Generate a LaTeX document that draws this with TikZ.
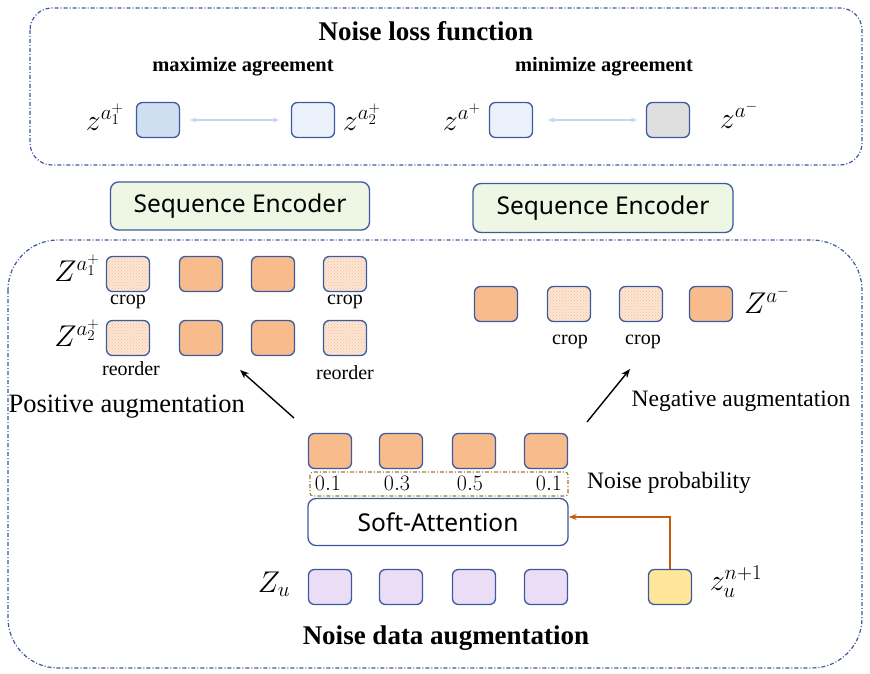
\documentclass[tikz,border=0pt]{standalone}
\usepackage{fix-cm}
\usepackage{fontspec}
\setmainfont{Liberation Serif}
\newfontfamily\uisans{Noto Sans}
\usetikzlibrary{patterns,arrows.meta}

\definecolor{frameblue}{HTML}{3D5A9C}
\definecolor{edgeblue}{HTML}{3B5AA0}
\definecolor{peach}{HTML}{F8BC8C}
\definecolor{peachlt}{HTML}{FCE6D6}
\definecolor{lilac}{HTML}{EADDF5}
\definecolor{butter}{HTML}{FFE699}
\definecolor{mint}{HTML}{EEF7E3}
\definecolor{blueA}{HTML}{CFDFF2}
\definecolor{blueB}{HTML}{EAF1FB}
\definecolor{greyC}{HTML}{E0DFE0}
\definecolor{paleline}{HTML}{C3D5F0}
\definecolor{rust}{HTML}{C55A11}
\definecolor{ochre}{HTML}{9A7B30}

\newcommand\titlefont{\fontsize{27}{30}\bfseries\selectfont}
\newcommand\subfont{\fontsize{20.5}{23}\bfseries\selectfont}
\newcommand\notefont{\fontsize{23.5}{26}\selectfont}
\newcommand\smallnote{\fontsize{20}{22}\selectfont}
\newcommand\mathlbl{\fontsize{30}{32}\selectfont}

\tikzset{
  frame/.style={draw=frameblue, line width=1.2pt,
    dash pattern=on 4pt off 2pt on 1pt off 2pt},
  tok/.style={draw=edgeblue, line width=1.3pt, rounded corners=6pt,
    minimum width=43pt, minimum height=35pt, inner sep=0pt},
  hot/.style={tok, fill=peach},
  cropped/.style={tok, preaction={fill=peachlt},
    pattern=crosshatch dots, pattern color=peach},
  wide/.style={draw=edgeblue, line width=1.3pt, rounded corners=8pt,
    inner sep=0pt, font=\uisans\fontsize{24.5}{27}\selectfont},
  mlabel/.style={font=\mathlbl, inner sep=1pt},
  pale/.style={<->, draw=paleline, line width=1.3pt,
    >={Stealth[length=6pt,width=5pt]}},
  push/.style={-{Stealth[length=9pt,width=7pt]}, line width=1.4pt},
}

\begin{document}
\begin{tikzpicture}[x=1pt,y=-1pt]
\useasboundingbox (0,0) rectangle (870,674);

% loss part
\draw[frame, rounded corners=22pt] (30,8) rectangle (862,165);
\node[font=\titlefont] (losstitle) at (426,31) {Noise loss function};
\node[font=\subfont] (maxtxt) at (243,67) {maximize agreement};
\node[font=\subfont] (mintxt) at (604,67) {minimize agreement};

\node[tok, fill=blueA] (za1) at (158,120) {};
\node[tok, fill=blueB] (za2) at (313,120) {};
\node[tok, fill=blueB] (zpos) at (511,120) {};
\node[tok, fill=greyC] (zneg) at (668,120) {};
\node[mlabel] (za1lbl) at (105,117) {$z^{a_1^+}$};
\node[mlabel] (za2lbl) at (362,117) {$z^{a_2^+}$};
\node[mlabel] (zposlbl) at (462,117) {$z^{a^+}$};
\node[mlabel] (zneglbl) at (739,115) {$z^{a^-}$};
\draw[pale, shorten <=10pt, shorten >=12pt] (za1) -- (za2);
\draw[pale, shorten <=15pt, shorten >=9pt] (zpos) -- (zneg);

% encoders
\node[wide, fill=mint, minimum width=259pt, minimum height=48pt] (encL) at (240,206) {Sequence Encoder};
\node[wide, fill=mint, minimum width=260pt, minimum height=49pt] (encR) at (603,208) {Sequence Encoder};

% augmentation part
\draw[frame, rounded corners=50pt] (8,240) rectangle (862,668);

% positive views
\foreach[count=\i] \x/\s in {128/cropped,201/hot,273/hot,345/cropped} {
  \node[\s] (pa\i) at (\x,274) {};
  \node[\s] (pb\i) at (\x,338) {};
}
\node[mlabel] (palbl) at (77,268) {$Z^{a_1^+}$};
\node[mlabel] (pblbl) at (77,333) {$Z^{a_2^+}$};
\node[font=\smallnote] (crop1) at (128,302) {crop};
\node[font=\smallnote] (crop2) at (345,302) {crop};
\node[font=\smallnote] (reord1) at (131,369) {reorder};
\node[font=\smallnote] (reord2) at (345,373) {reorder};

% negative view
\foreach[count=\i] \x/\s in {496/hot,569/cropped,641/cropped,711/hot}
  \node[\s] (na\i) at (\x,304) {};
\node[mlabel] (nalbl) at (767,300) {$Z^{a^-}$};
\node[font=\smallnote] (crop3) at (570,342) {crop};
\node[font=\smallnote] (crop4) at (643,342) {crop};

\node[font=\fontsize{26.5}{29}\selectfont, anchor=west] (postxt) at (5,407) {Positive augmentation};
\node[font=\notefont] (negtxt) at (741,401) {Negative augmentation};
\coordinate (posfrom) at (294,418);
\coordinate (posto) at (240,370);
\coordinate (negfrom) at (587,422);
\coordinate (negto) at (630,369);
\draw[push] (posfrom) -- (posto);
\draw[push] (negfrom) -- (negto);

% noisy tokens and their weights
\foreach[count=\i] \x/\wx/\p in {330/328/0.1,401/397/0.3,474/470/0.5,546/549/0.1} {
  \node[hot] (h\i) at (\x,451) {};
  \node[font=\fontsize{22}{24}\selectfont] (w\i) at (\wx,483) {$\p$};
}
\draw[ochre, line width=1.1pt, rounded corners=3pt,
  dash pattern=on 4pt off 2pt on 1pt off 2pt] (310,472) rectangle (568,496);
\node[font=\notefont] (probtxt) at (669,483) {Noise probability};

\node[wide, fill=white, minimum width=260pt, minimum height=47pt] (sa) at (438,522) {Soft-Attention};

% input sequence
\foreach[count=\i] \x in {330,401,474,546}
  \node[tok, fill=lilac] (u\i) at (\x,587) {};
\node[tok, fill=butter] (unext) at (670,587) {};
\node[mlabel] (ulbl) at (274,584) {$Z_u$};
\node[mlabel] (unextlbl) at (736,582) {$z_u^{n+1}$};
\draw[rust, line width=1.2pt, -{Stealth[length=8pt,width=6pt]}]
  (unext.north) |- ([yshift=5pt]sa.east);

\node[font=\titlefont] (augtitle) at (446,638) {Noise data augmentation};
\end{tikzpicture}
\end{document}
